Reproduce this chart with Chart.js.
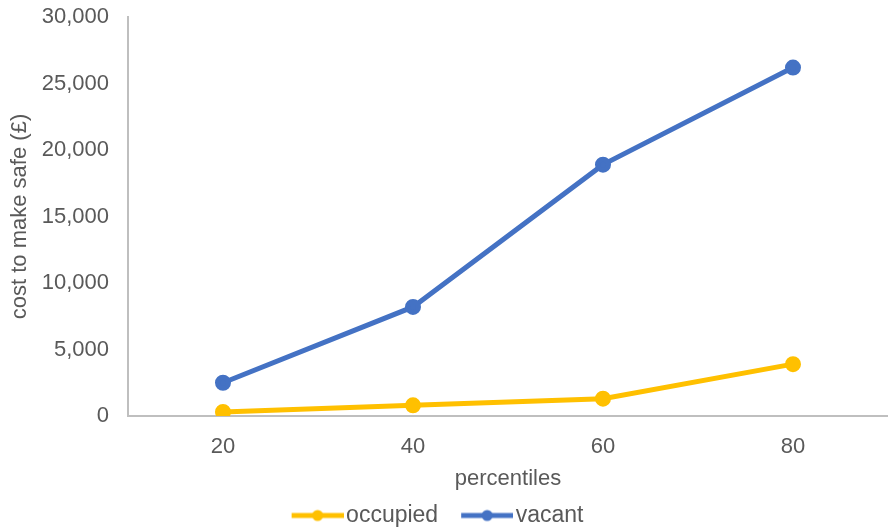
<!DOCTYPE html>
<html>
<head>
<meta charset="utf-8">
<script src="https://cdn.jsdelivr.net/npm/chart.js@4/dist/chart.umd.min.js"></script>
<style>
  html, body { margin: 0; padding: 0; background: #ffffff; }
  #wrap { width: 888px; height: 531px; position: relative; }
</style>
</head>
<body>
<div id="wrap"><canvas id="c" width="888" height="531"></canvas></div>
<script>
// Cost to make safe by percentile, occupied vs vacant dwellings
const percentiles = ['20', '40', '60', '80'];
const occupied = [300, 800, 1300, 3900];
const vacant = [2500, 8200, 18900, 26200];
const yTicks = [0, 5000, 10000, 15000, 20000, 25000, 30000];

const FONT = "'Liberation Sans', Arial, sans-serif";
const TEXT = '#595959';
const YELLOW = '#FFC000';
const BLUE = '#4472C4';
const AXIS = '#BFBFBF';

// Legend marker: short line with a dot in the middle
function legendMarker(color) {
  const cv = document.createElement('canvas');
  cv.width = 62; cv.height = 14;
  const g = cv.getContext('2d');
  g.strokeStyle = color;
  g.lineWidth = 5;
  g.beginPath(); g.moveTo(10, 7); g.lineTo(62, 7); g.stroke();
  g.fillStyle = color;
  g.beginPath(); g.arc(36, 7, 5.5, 0, Math.PI * 2); g.fill();
  return cv;
}
const markers = [legendMarker(YELLOW), legendMarker(BLUE)];

new Chart(document.getElementById('c'), {
  type: 'line',
  data: {
    labels: percentiles,
    datasets: [
      { label: 'occupied', data: occupied, borderColor: YELLOW, backgroundColor: YELLOW,
        borderWidth: 5, pointRadius: 5.5, pointHoverRadius: 5.5, tension: 0 },
      { label: 'vacant', data: vacant, borderColor: BLUE, backgroundColor: BLUE,
        borderWidth: 5, pointRadius: 5.5, pointHoverRadius: 5.5, tension: 0 }
    ]
  },
  options: {
    responsive: false,
    animation: false,
    layout: { autoPadding: false, padding: { top: 17, right: 0, bottom: -6, left: -14 } },
    plugins: {
      tooltip: { enabled: false },
      legend: {
        position: 'bottom',
        labels: {
          font: { family: FONT, size: 23 },
          color: TEXT,
          usePointStyle: true,
          pointStyleWidth: 44,
          boxHeight: 14,
          padding: 22,
          generateLabels: (chart) => chart.data.datasets.map((ds, i) => ({
            text: ds.label,
            fillStyle: ds.borderColor,
            strokeStyle: ds.borderColor,
            fontColor: TEXT,
            lineWidth: 0,
            pointStyle: markers[i],
            hidden: false,
            datasetIndex: i
          }))
        }
      }
    },
    scales: {
      x: {
        offset: true,
        afterFit: (s) => { s.height = 66; s.paddingLeft = 0; s.paddingRight = 0; },
        grid: { display: false, drawTicks: false },
        border: { display: true, color: AXIS, width: 2 },
        ticks: { color: TEXT, font: { family: FONT, size: 22 }, padding: 18, maxRotation: 0 },
        title: { display: true, text: 'percentiles', color: TEXT,
                 font: { family: FONT, size: 22 }, padding: { top: 0, bottom: -10 } }
      },
      y: {
        min: 0, max: 30000,
        afterFit: (s) => { s.width = 142; s.paddingTop = 0; s.paddingBottom = 0; },
        afterBuildTicks: (s) => { s.ticks = yTicks.map(v => ({ value: v })); },
        grid: { display: false, drawTicks: false },
        border: { display: true, color: AXIS, width: 2 },
        ticks: {
          color: TEXT, font: { family: FONT, size: 22 }, padding: 19,
          callback: (v) => v.toLocaleString('en-GB')
        },
        title: { display: true, text: 'cost to make safe (£)', color: TEXT,
                 font: { family: FONT, size: 22 }, padding: { top: 21, bottom: 0 } }
      }
    }
  }
});
</script>
</body>
</html>
